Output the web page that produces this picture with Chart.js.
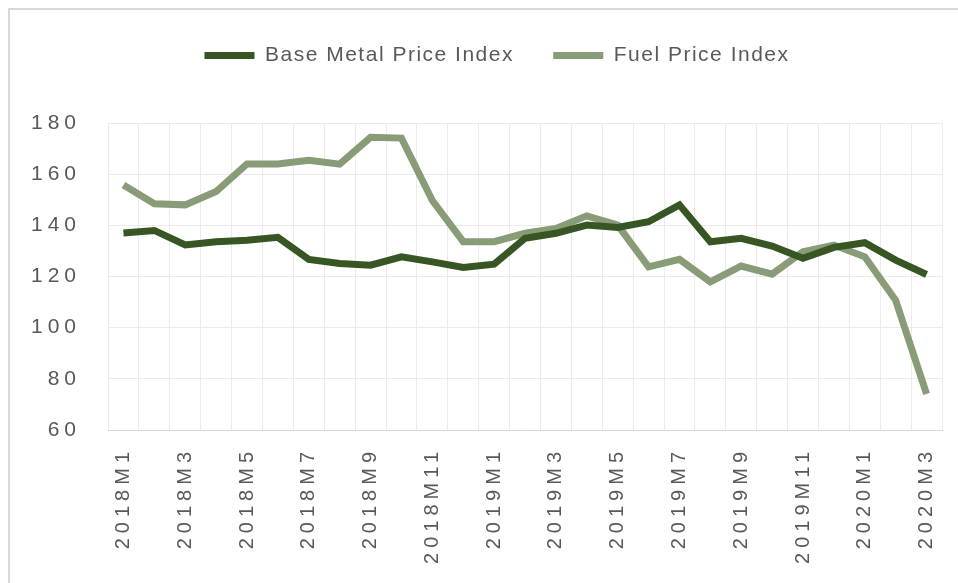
<!DOCTYPE html>
<html>
<head>
<meta charset="utf-8">
<script src="https://cdn.jsdelivr.net/npm/chart.js@4"></script>
<style>
  html, body { margin: 0; padding: 0; background: #fff; }
  #wrap { width: 958px; height: 583px; }
</style>
</head>
<body>
<div id="wrap"><canvas id="priceChart"></canvas></div>
<script>
const months = [
  '2018M1', '2018M2', '2018M3', '2018M4', '2018M5', '2018M6', '2018M7', '2018M8', '2018M9',
  '2018M10', '2018M11', '2018M12', '2019M1', '2019M2', '2019M3', '2019M4', '2019M5', '2019M6',
  '2019M7', '2019M8', '2019M9', '2019M10', '2019M11', '2019M12', '2020M1', '2020M2', '2020M3'
];
const baseMetal = [137, 138, 132.3, 133.6, 134.2, 135.3, 126.7, 125.1, 124.4, 127.7, 125.7, 123.5, 124.8,
  134.9, 136.9, 140.1, 139.2, 141.4, 148, 133.6, 134.9, 131.9, 127.1, 131.4, 133.2, 126.4, 120.8];
const fuel = [155.8, 148.4, 148, 153.2, 164, 164, 165.4, 163.9, 174.4, 174.1, 149.7, 133.6, 133.6,
  136.9, 138.8, 143.7, 140.1, 123.8, 126.7, 117.9, 124.1, 120.9, 129.7, 132.3, 127.7, 110.7, 74.1];
const yTicks = [60, 80, 100, 120, 140, 160, 180];

const textColor = '#595959';

// letter spacing per element (canvas ctx.letterSpacing)
function spaced(obj, method, ls) {
  const orig = obj[method];
  obj[method] = function (...args) {
    const ctx = this.ctx;
    ctx.save();
    ctx.letterSpacing = ls;
    const r = orig.apply(this, args);
    ctx.restore();
    return r;
  };
}

const frameAndSpacing = {
  id: 'frameAndSpacing',
  afterInit(chart) {
    spaced(chart.legend, 'fit', '1.5px');
    spaced(chart.legend, 'draw', '1.5px');
  },
  afterLayout(chart) {
    // legend sits a bit right of the canvas centre
    chart.legend.left += 26;
    chart.legend.right += 26;
  },
  beforeDraw(chart) {
    if (!chart._spacedScales) {
      spaced(chart.scales.x, 'drawLabels', '5px');
      spaced(chart.scales.y, 'drawLabels', '5px');
      chart._spacedScales = true;
    }
    const ctx = chart.ctx;
    ctx.save();
    ctx.strokeStyle = '#d9d9d9';
    ctx.lineWidth = 2;
    ctx.beginPath();
    ctx.moveTo(9, 583);
    ctx.lineTo(9, 9);
    ctx.lineTo(958, 9);
    ctx.stroke();
    ctx.restore();
  }
};

const ctx = document.getElementById('priceChart').getContext('2d');
const priceChart = new Chart(ctx, {
  type: 'line',
  data: {
    labels: months,
    datasets: [{
      label: 'Base Metal Price Index',
      data: baseMetal,
      borderColor: '#375623',
      backgroundColor: '#375623',
      borderWidth: 7,
      pointRadius: 0,
      tension: 0,
      fill: false
    }, {
      label: 'Fuel Price Index',
      data: fuel,
      borderColor: '#879c77',
      backgroundColor: '#879c77',
      borderWidth: 7,
      pointRadius: 0,
      tension: 0,
      fill: false
    }]
  },
  options: {
    responsive: true,
    maintainAspectRatio: false,
    animation: false,
    layout: { padding: { top: 35, left: 0, right: 16, bottom: 0 } },
    plugins: {
      legend: {
        position: 'top',
        labels: {
          boxWidth: 50,
          boxHeight: 7,
          padding: 10,
          color: textColor,
          font: { family: "'Liberation Sans', Arial", size: 21 },
          generateLabels(chart) {
            const items = Chart.defaults.plugins.legend.labels.generateLabels(chart);
            items.forEach(it => { it.lineWidth = 0; });
            items[0].text = items[0].text + '    ';
            return items;
          }
        }
      },
      title: {
        display: true,
        text: '',
        weight: 500,
        font: { size: 1, lineHeight: 1 },
        padding: { top: 22, bottom: 24 }
      },
      tooltip: { enabled: false }
    },
    scales: {
      x: {
        offset: true,
        grid: { offset: true, color: '#ebebeb', drawTicks: false },
        border: { color: '#d9d9d9' },
        ticks: {
          autoSkip: false,
          minRotation: 90,
          maxRotation: 90,
          padding: 17,
          color: textColor,
          font: { family: "'Liberation Sans', Arial", size: 20 },
          callback(value, index) { return index % 2 === 0 ? months[index] : ''; }
        },
        afterFit(scale) {
          scale.height = 153;
          scale.paddingLeft = 0;
          scale.paddingRight = 0;
        }
      },
      y: {
        min: 60,
        max: 180,
        afterBuildTicks(scale) { scale.ticks = yTicks.map(v => ({ value: v })); },
        grid: { color: '#ebebeb', drawTicks: false },
        border: { display: false },
        ticks: {
          padding: 27,
          color: textColor,
          font: { family: "'Liberation Sans', Arial", size: 21 }
        },
        afterFit(scale) { scale.width = 108; }
      }
    }
  },
  plugins: [frameAndSpacing]
});
</script>
</body>
</html>
